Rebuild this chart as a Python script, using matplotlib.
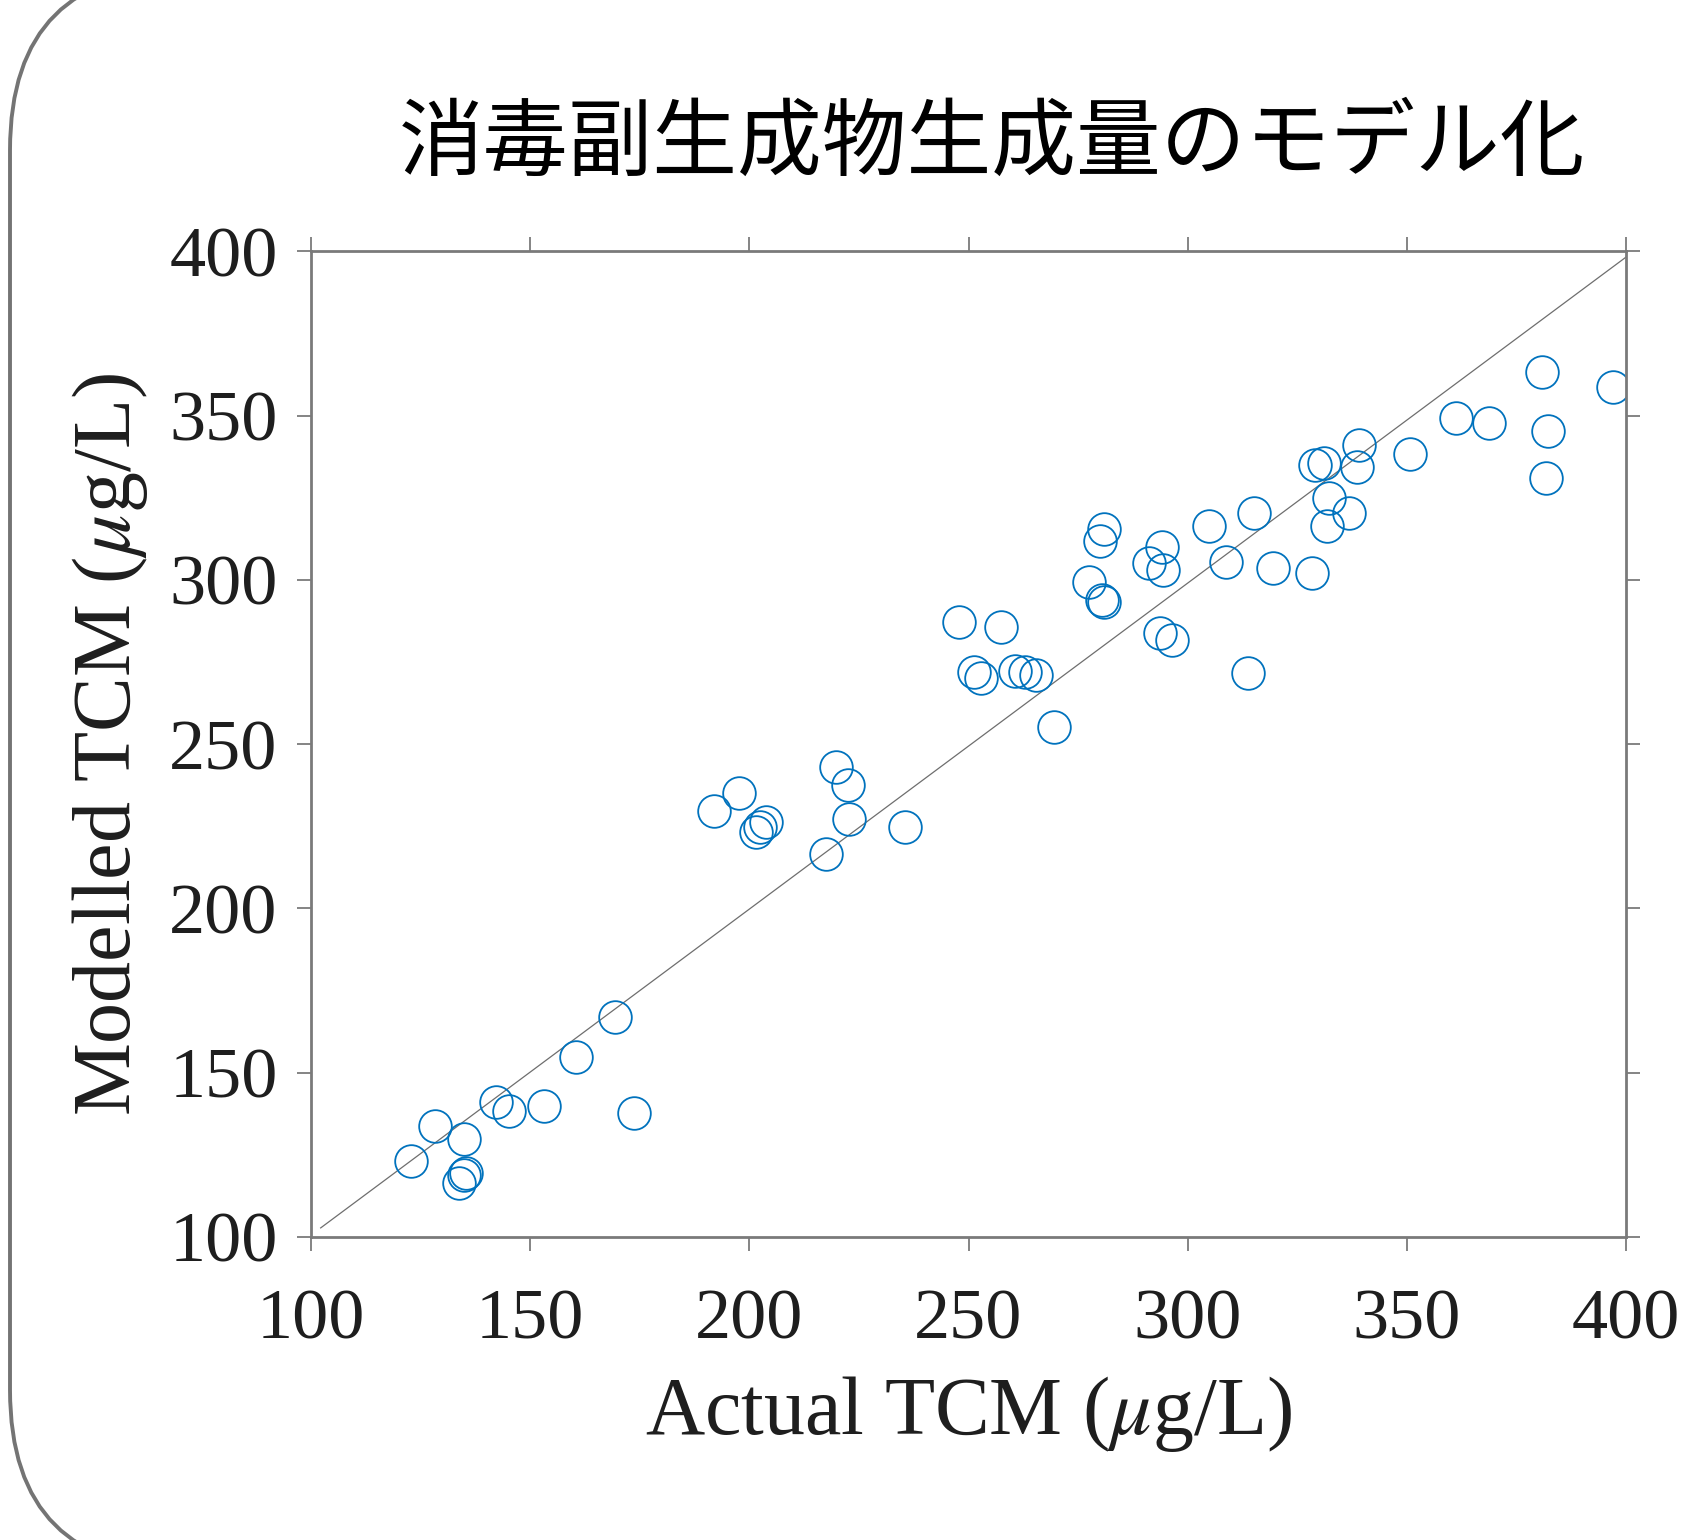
import numpy as np
import matplotlib
matplotlib.use("Agg")
import matplotlib.pyplot as plt
from matplotlib.patches import FancyBboxPatch

# values
actual = [122.8, 128.2, 135.0, 133.8, 134.8, 135.3,
          142.2, 145.2, 153.2, 160.5, 169.4, 173.6,
          192.0, 197.6, 201.4, 202.4, 203.9, 217.5, 219.7, 222.6, 222.8, 235.5,
          247.8, 251.2, 252.9, 257.5, 260.7, 262.9, 265.3, 269.5,
          277.5, 280.0, 281.0, 280.5, 280.8, 291.2, 294.2, 294.4, 293.6, 296.3,
          304.9, 308.8, 313.8, 315.2, 319.5, 328.4, 329.1, 331.2, 332.3, 331.8,
          336.9, 339.0, 338.7,
          350.8, 361.1, 368.8, 380.9, 382.1, 381.8, 397.1]
modelled = [123.1, 133.7, 129.7, 116.4, 118.8, 119.5,
            141.1, 138.3, 139.8, 154.8, 167.0, 137.8,
            229.6, 235.0, 223.3, 224.8, 226.4, 216.6, 243.1, 237.5, 227.1, 224.7,
            287.3, 272.0, 270.0, 285.7, 272.4, 272.0, 271.0, 255.3,
            299.5, 311.8, 315.5, 293.9, 293.4, 305.1, 310.1, 303.0, 283.7, 281.7,
            316.5, 305.4, 271.6, 320.3, 303.7, 302.0, 335.0, 335.5, 324.8, 316.5,
            320.5, 341.1, 334.5,
            338.3, 349.2, 347.9, 363.4, 345.4, 331.1, 358.8]
line_x = [102.2, 400.0]
line_y = [102.7, 398.3]
ticks = [100, 150, 200, 250, 300, 350, 400]

title = "消毒副生成物生成量のモデル化"
xlabel = r"Actual TCM ($\mu$g/L)"
ylabel = r"Modelled TCM ($\mu$g/L)"

plt.rcParams["font.family"] = ["Liberation Serif", "DejaVu Serif"]
plt.rcParams["mathtext.fontset"] = "stix"

fig = plt.figure(figsize=(16.84, 15.4), dpi=100)

# rounded slide frame behind everything
bg = fig.add_axes([0, 0, 1, 1], zorder=-1)
bg.set_xlim(0, 1684)
bg.set_ylim(1540, 0)
bg.axis("off")
frame = FancyBboxPatch((10, -30), 2000, 1600,
                       boxstyle="round,pad=0,rounding_size=180",
                       fc="white", ec="#747474", lw=2.8)
bg.add_patch(frame)

ax = fig.add_axes([0.1847, 0.1969, 0.7809, 0.6398])
ax.plot(line_x, line_y, color="#6e6e6e", lw=0.9)
ax.plot(actual, modelled, "o", mfc="none", mec="#0072BD", ms=23.5, mew=1.3)

ax.set_xlim(100, 400)
ax.set_ylim(100, 400)
ax.set_xticks(ticks)
ax.set_yticks(ticks)
for s in ax.spines.values():
    s.set_color("#7a7a7a")
    s.set_linewidth(2.0)
ax.tick_params(direction="out", length=10, width=1.2, color="#707070",
               top=True, right=True, labeltop=False, labelright=False,
               labelsize=52, labelcolor="#1e1e1e")
ax.tick_params(axis="x", pad=27)
ax.tick_params(axis="y", pad=14)
ax.set_xlabel(xlabel, fontsize=59, color="#1e1e1e", labelpad=15)
ax.set_ylabel(ylabel, fontsize=59, color="#1e1e1e", labelpad=14)

fig.text(0.589, 0.906, title, ha="center", va="center", fontsize=61,
         family=["Noto Sans CJK JP", "DejaVu Sans"], color="black")

fig.savefig("out.png", dpi=100)
